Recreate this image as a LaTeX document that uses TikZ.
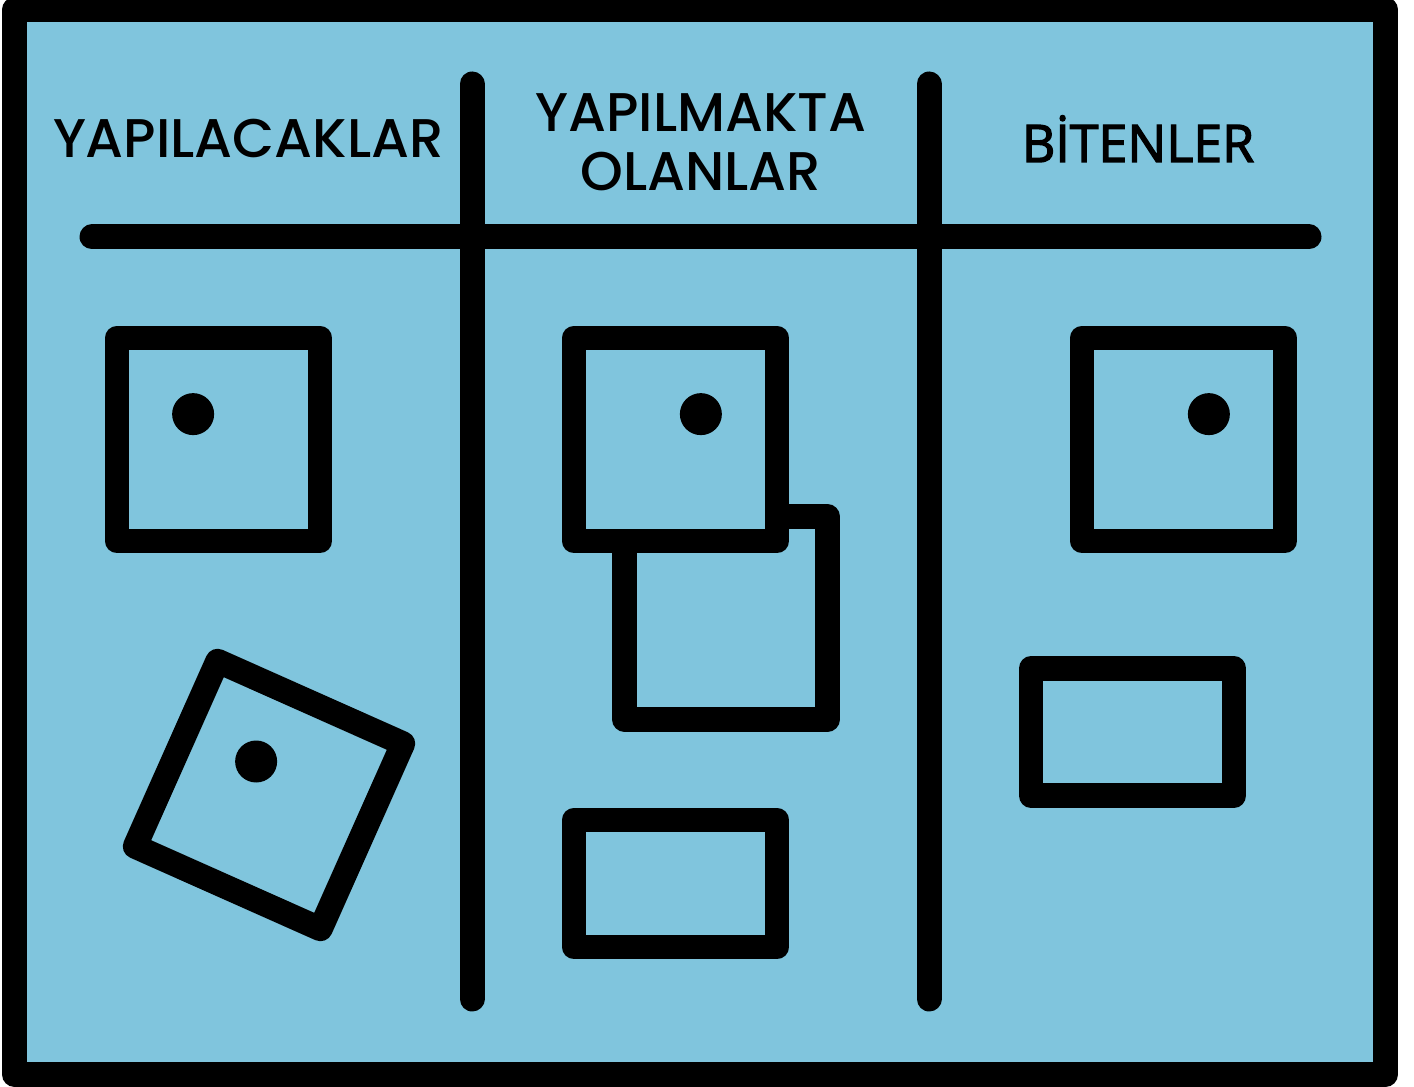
\documentclass[tikz,border=0pt]{standalone}
\usepackage{fontspec}
\setmainfont{Poppins}[UprightFont={* Medium}]
\newfontfamily\bitfont{Open Sans}[FakeBold=2.5]
\usepackage{tikz}
\usetikzlibrary{calc, positioning}
\definecolor{boardblue}{RGB}{128,197,221}
\tikzset{
  x=0.02cm, y=-0.02cm, % one unit = one pixel of the board
  frame/.style={draw=black, line width=0.5cm, line join=round, fill=boardblue},
  divider/.style={draw=black, line width=0.5cm, line cap=round},
  card/.style={draw=black, line width=0.49cm, line join=round, fill=boardblue,
    inner sep=0pt, outer sep=0pt, minimum width=4.06cm, minimum height=4.06cm},
  slip/.style={card, minimum height=2.54cm},
  title/.style={font=\fontsize{31}{33.5}\selectfont, align=center, inner sep=0pt},
}
\newcommand{\pin}[1]{\fill[black] (#1) circle[radius=21];}
\begin{document}
\begin{tikzpicture}
  \fill[white] (0,0) rectangle (1414,1087);
  \useasboundingbox (0,0) rectangle (1414,1087);
  % board
  \path[frame] (14.5,10) rectangle (1385.5,1074.5);

  % column titles
  \node[title, anchor=base] (todo) at (248.5,158) {YAPILACAKLAR};
  \node[title] (doing) at (701,142) {YAPILMAKTA\\OLANLAR};
  \node[title, anchor=base, font=\bitfont\fontsize{29.5}{34}\selectfont] (done) at (1138,162) {BİTENLER};

  % grid
  \draw[divider] (92,237) -- (1309,237);
  \draw[divider] (472,84) -- (472,999);
  \draw[divider] (929,84) -- (929,999);

  % cards
  \node[card] (c1) at (218.5,439.5) {};
  \node[card, rotate=-24] (c2) at (269,795) {};
  \node[card] (c4) at (726,618) {};
  \node[card] (c3) at (675.5,439.5) {};
  \node[slip] (c5) at (675.5,883.5) {};
  \node[card] (c6) at (1183.5,439.5) {};
  \node[slip] (c7) at (1132.5,732) {};

  \pin{$(c1.center)!0.25!(c1.north west)$}
  \pin{$(c2.center)!0.25!(c2.north west)$}
  \pin{$(c3.center)!0.25!(c3.north east)$}
  \pin{$(c6.center)!0.25!(c6.north east)$}
\end{tikzpicture}
\end{document}
